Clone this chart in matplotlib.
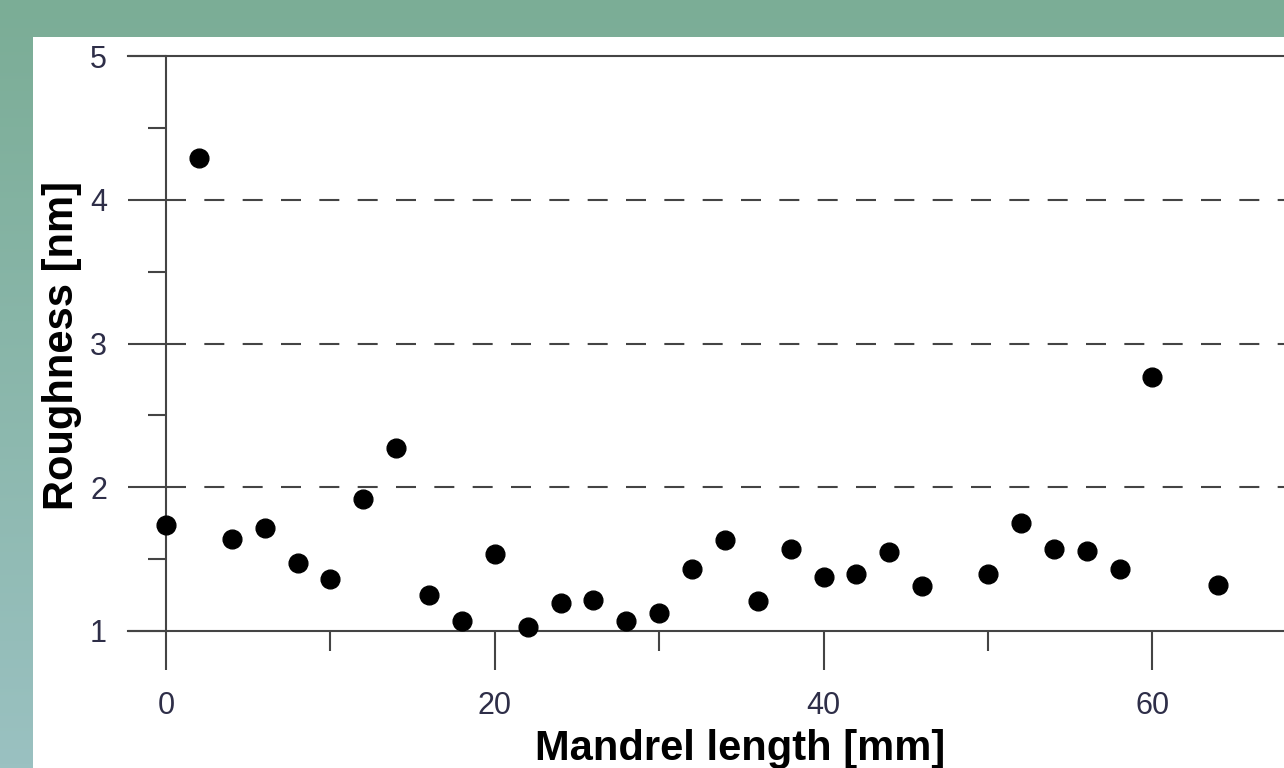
import numpy as np
import matplotlib
matplotlib.use('Agg')
import matplotlib.pyplot as plt
from matplotlib.colors import LinearSegmentedColormap
from matplotlib.patches import Rectangle

plt.rcParams['font.family'] = ['Liberation Sans', 'DejaVu Sans']
plt.rcParams['lines.scale_dashes'] = False

# data (48 and 62 mm have no point)
length_mm = [0, 2, 4, 6, 8, 10, 12, 14, 16, 18, 20, 22, 24, 26, 28, 30, 32,
             34, 36, 38, 40, 42, 44, 46, 50, 52, 54, 56, 58, 60, 64]
roughness_nm = [1.74, 4.29, 1.64, 1.72, 1.47, 1.36, 1.92, 2.27, 1.25, 1.07,
                1.535, 1.03, 1.195, 1.215, 1.07, 1.125, 1.43, 1.63, 1.21,
                1.57, 1.375, 1.40, 1.55, 1.31, 1.40, 1.75, 1.57, 1.56, 1.43,
                2.77, 1.32]
x_ticks = [0, 20, 40, 60]
x_minor = [10, 30, 50]
y_ticks = [1, 2, 3, 4, 5]
y_minor = [1.5, 2.5, 3.5, 4.5]
grid_levels = [2, 3, 4]

W, H = 1284, 768
X_MIN, X_MAX = -2.31, 72.14
LINE = '#444444'
TICK_TXT = '#2e2e48'

fig = plt.figure(figsize=(W / 100, H / 100), dpi=100)

# green gradient backdrop
bg = fig.add_axes([0, 0, 1, 1], zorder=-2)
cmap = LinearSegmentedColormap.from_list('bg', ['#7bad96', '#9ac1c1'])
bg.imshow(np.linspace(0, 1, 256).reshape(-1, 1), cmap=cmap, aspect='auto',
          extent=[0, 1, 0, 1])
bg.axis('off')

# white panel
fig.add_artist(Rectangle((33 / W, 0), 1, 1 - 37 / H, transform=fig.transFigure,
                         facecolor='white', edgecolor='none', zorder=-1))

ax = fig.add_axes([128 / W, 137 / H, 1224 / W, 575 / H])
ax.patch.set_visible(False)

# dashes in points: ~20 px on, ~18 px off
ax.hlines(grid_levels, 0, X_MAX, colors=LINE, linewidth=1.5,
          linestyles=(0, (14.4, 13.2)))
ax.plot(length_mm, roughness_nm, 'o', color='black', markersize=13.5,
        linestyle='none', clip_on=False, zorder=3)

ax.set_xlim(X_MIN, X_MAX)
ax.set_ylim(1, 5)

ax.spines['left'].set_position(('data', 0))
ax.spines['right'].set_visible(False)
for side in ['left', 'top', 'bottom']:
    ax.spines[side].set_color(LINE)
    ax.spines[side].set_linewidth(1.5)

ax.set_xticks(x_ticks)
ax.set_xticks(x_minor, minor=True)
ax.set_yticks(y_ticks)
ax.set_yticks(y_minor, minor=True)
ax.tick_params(axis='y', which='major', length=27.4, width=1.5, color=LINE,
               pad=15, labelsize=22, labelcolor=TICK_TXT)
ax.tick_params(axis='y', which='minor', length=13, width=1.5, color=LINE)
ax.tick_params(axis='x', which='major', length=28, width=1.5, color=LINE,
               pad=15.5, labelsize=22, labelcolor=TICK_TXT)
ax.tick_params(axis='x', which='minor', length=14.4, width=1.5, color=LINE)

ax.set_xlabel('Mandrel length [mm]', fontsize=30, fontweight='bold')
ax.xaxis.set_label_coords(740 / W, 1 - 760 / H, transform=fig.transFigure)
ax.xaxis.label.set_va('baseline')

ax.set_ylabel('Roughness [nm]', fontsize=30, fontweight='bold')
ax.yaxis.set_label_coords(73 / W, 1 - 346 / H, transform=fig.transFigure)
ax.yaxis.label.set_va('baseline')

fig.savefig('out.png', dpi=100)
